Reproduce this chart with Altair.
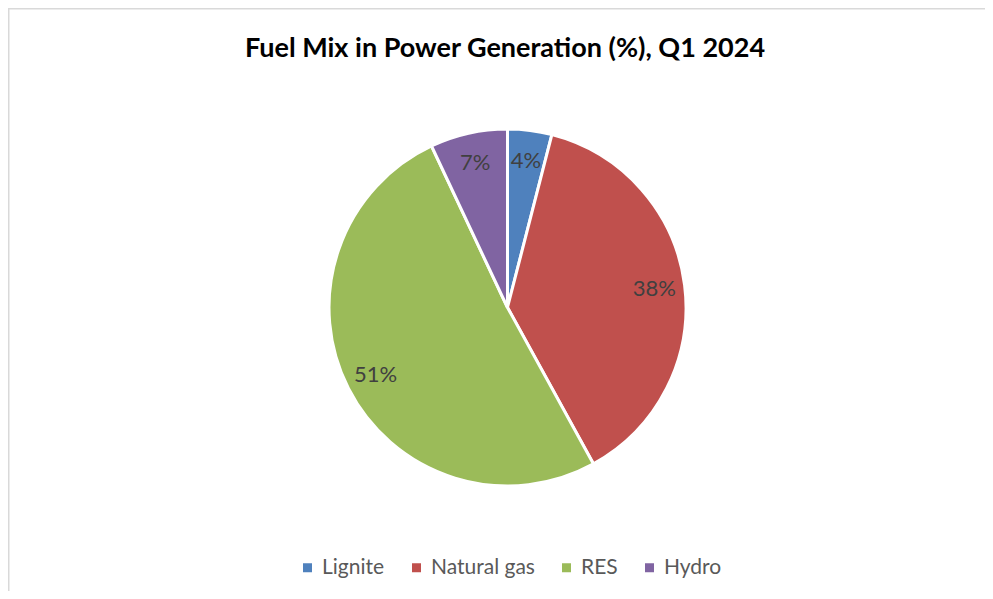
import altair as alt
import pandas as pd

TITLE = "Fuel Mix in Power Generation (%), Q1 2024"
categories = ["Lignite", "Natural gas", "RES", "Hydro"]
values = [4, 38, 51, 7]
labels = ["4%", "38%", "51%", "7%"]
colors = ["#4F81BD", "#C0504D", "#9BBB59", "#8064A2"]

df = pd.DataFrame({
    "fuel": categories,
    "value": values,
    "label": labels,
    "order": list(range(len(categories))),
})

W, H = 977, 583
CX, CY = 499.5, 299.5
FONT = "Lato"

base = alt.Chart(df).encode(
    theta=alt.Theta("value:Q", stack=True),
    order=alt.Order("order:Q"),
)

pie = base.mark_arc(outerRadius=178.5, stroke="white", strokeWidth=3, x=CX, y=CY).encode(
    color=alt.Color(
        "fuel:N",
        scale=alt.Scale(domain=categories, range=colors),
        sort=categories,
        legend=alt.Legend(
            title=None,
            orient="none",
            direction="horizontal",
            legendX=289,
            legendY=549,
            symbolType="square",
            symbolSize=81,
            symbolStrokeWidth=0,
            labelFont=FONT,
            labelFontSize=21,
            labelColor="#595959",
            labelOffset=4,
            columnPadding=21,
            padding=0,
        ),
    )
)

text = base.mark_text(radius=148, x=CX, y=CY, font=FONT, fontSize=22, color="#404040").encode(
    text="label:N"
)

title = alt.Chart(pd.DataFrame({"t": [TITLE]})).mark_text(
    font=FONT, fontSize=27, fontWeight="bold", color="#000000", baseline="alphabetic"
).encode(
    text="t:N",
    x=alt.value(497),
    y=alt.value(49),
)

border_top = alt.Chart(pd.DataFrame({"a": [0]})).mark_rule(color="#d9d9d9", strokeWidth=1.5).encode(
    x=alt.value(0), x2=alt.value(W), y=alt.value(0.75)
)
border_left = alt.Chart(pd.DataFrame({"a": [0]})).mark_rule(color="#d9d9d9", strokeWidth=1.5).encode(
    x=alt.value(0.75), y=alt.value(0), y2=alt.value(H)
)

chart = alt.layer(border_top, border_left, pie, text, title).properties(
    width=W, height=H, padding=0, autosize=alt.AutoSizeParams(type="none")
).configure_view(stroke=None).configure(background="white")

chart.save("out.html", embed_options={"renderer": "svg", "actions": False})
